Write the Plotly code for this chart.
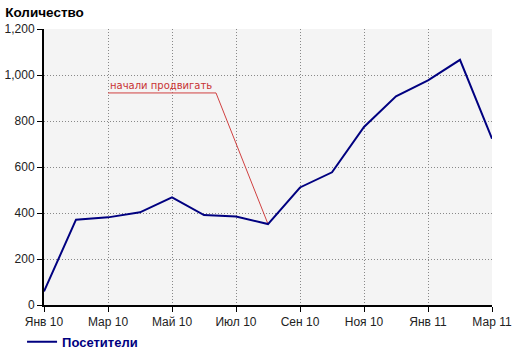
import plotly.graph_objects as go

months = ["Янв 10", "Фев 10", "Мар 10", "Апр 10", "Май 10", "Июн 10", "Июл 10", "Авг 10",
          "Сен 10", "Окт 10", "Ноя 10", "Дек 10", "Янв 11", "Фев 11", "Мар 11"]
visitors = [59, 371, 381, 403, 468, 391, 385, 352, 511, 577, 774, 907, 977, 1066, 723]
tick_idx = [0, 2, 4, 6, 8, 10, 12, 14]
tick_text = [months[i] for i in tick_idx]
y_ticks = [0, 200, 400, 600, 800, 1000, 1200]
y_tick_text = ["0", "200", "400", "600", "800", "1,000", "1,200"]

anno_text = "начали продвигать"
anno_x = [2, 5.375, 7]
anno_y = [922, 922, 352]

x = list(range(len(months)))

fig = go.Figure()
fig.add_trace(go.Scatter(x=anno_x, y=anno_y, mode="lines",
                         line=dict(color="#d04040", width=1), showlegend=False,
                         hoverinfo="skip"))
fig.add_trace(go.Scatter(x=x, y=visitors, mode="lines", name="<b>Посетители</b>",
                         line=dict(color="#000080", width=2)))

fig.add_annotation(x=anno_x[0], y=anno_y[0], text=anno_text, showarrow=False,
                   xanchor="left", yanchor="bottom", yshift=0, xshift=0,
                   font=dict(family="DejaVu Sans", size=10, color="#c83232"))

fig.update_layout(
    width=520, height=353,
    margin=dict(l=44, r=28, t=29, b=48, autoexpand=False),
    paper_bgcolor="white", plot_bgcolor="#f4f4f4",
    font=dict(family="Liberation Sans, Arial", size=12, color="#222"),
    title=dict(text="<b>Количество</b>", x=0.01, xanchor="left", xref="container",
               y=1 - 12 / 353, yref="container", yanchor="middle",
               font=dict(size=13.5, color="black")),
    showlegend=True,
    legend=dict(orientation="h", x=-0.049, xanchor="left", y=-0.079, yanchor="top",
                font=dict(size=13, color="#000080", family="Liberation Sans, Arial"),
                bgcolor="rgba(0,0,0,0)", itemwidth=30),
)
axis_style = dict(showline=True, linecolor="black", linewidth=2,
                  ticks="outside", ticklen=5, tickcolor="black", tickwidth=1,
                  showgrid=True, gridcolor="#888", griddash="1px,2px", gridwidth=1,
                  zeroline=False, fixedrange=True, automargin=False)
fig.update_xaxes(range=[0, 14], tickvals=tick_idx, ticktext=tick_text, **axis_style)
fig.update_yaxes(range=[0, 1200], tickvals=y_ticks, ticktext=y_tick_text, **axis_style)

fig.write_html("out.html")
